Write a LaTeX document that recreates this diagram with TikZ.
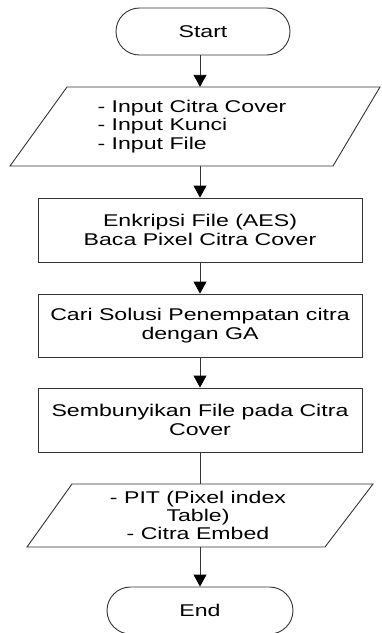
\documentclass[tikz,border=0pt]{standalone}
\usepackage{fontspec}
\setmainfont[FakeStretch=1.36]{Liberation Sans}
\usetikzlibrary{arrows.meta}
\begin{document}
\begin{tikzpicture}[x=1pt,y=-1pt,
  every node/.style={font=\fontsize{17}{18.3}\selectfont, inner sep=0pt},
  outline/.style={draw=black!80, line width=0.9pt},
  term/.style={outline, rounded corners=23.5pt, minimum width=174pt, minimum height=47pt},
  procbox/.style={outline, minimum width=324pt, minimum height=64pt, align=center},
  iotext/.style={align=left},
  flow/.style={draw=black!80, line width=0.9pt, -{Triangle[width=13pt,length=12pt,color=black]}},
  plain/.style={draw=black!80, line width=0.9pt}]
\useasboundingbox (0,0) rectangle (382,633);
\fill[white] (0,0) rectangle (382,633);

% terminals
\node[term] (start) at (203,31.5) {Start};
\node[term, minimum width=186pt] (end) at (200,610.5) {End};

% input parallelogram
\draw[outline] (67,87) -- (380,87) -- (333,166) -- (10,166) -- cycle;
\node[iotext, minimum height=79pt] (in) at (192,126.5)
  {- Input Citra Cover\\- Input Kunci\\- Input File};

% process steps
\node[procbox] (enc) at (200,230) {Enkripsi File (AES)\\Baca Pixel Citra Cover};
\node[procbox, minimum height=63pt] (ga) at (200,325.5) {Cari Solusi Penempatan citra\\dengan GA};
\node[procbox] (hide) at (200,420) {Sembunyikan File pada Citra\\Cover};

% output parallelogram
\draw[outline] (72,484) -- (373,484) -- (325,547) -- (27,547) -- cycle;
\node[align=center, minimum height=63pt] (out) at (198,515.5)
  {- PIT (Pixel index\\Table)\\- Citra Embed};

% connectors
\draw[flow] (start.south -| enc.north) -- (enc.north |- in.north);
\draw[flow] (enc.north |- in.south) -- (enc.north);
\draw[flow] (enc.south) -- (ga.north);
\draw[flow] (ga.south) -- (hide.north);
\draw[plain] (hide.south) -- (hide.south |- out.north);
\draw[flow] (hide.south |- out.south) -- (end.north);
\end{tikzpicture}
\end{document}
